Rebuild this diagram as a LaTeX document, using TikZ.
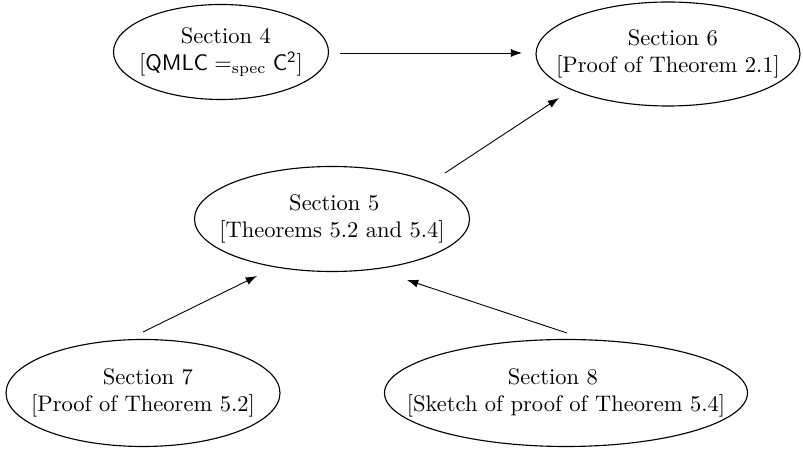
\documentclass[tikz,border=0pt]{standalone}
\usetikzlibrary{arrows.meta}
\begin{document}
\begin{tikzpicture}[x=0.4444pt,y=-0.4444pt,
  sect/.style={inner sep=0pt,align=center,font=\normalsize},
  ell/.style={draw,line width=0.5pt},
  arr/.style={-{Latex[length=5pt,width=3.6pt]},line width=0.4pt}]
\useasboundingbox (0,0) rectangle (803,451);
\node[sect] (s4) at (221,52)
  {\hspace*{4.4pt}Section 4\\ {[}$\mathsf{QMLC} =_{\mathrm{spec}} \mathsf{C}^{\mathsf{2}}${]}};
\node[sect] (s6) at (668,54)
  {\hspace*{4.4pt}Section 6\\ {[}Proof of Theorem 2.1{]}};
\node[sect] (s5) at (332,219)
  {\hspace*{2pt}Section 5\\ {[}Theorems 5.2 and 5.4{]}};
\node[sect] (s7) at (143,393)
  {\hspace*{4.4pt}Section 7\\ {[}Proof of Theorem 5.2{]}};
\node[sect] (s8) at (566,393)
  {Section 8\hspace*{11.6pt}\\ {[}Sketch of proof of Theorem 5.4{]}};
\draw[ell] (s4.center) ellipse [x radius=107.5, y radius=47.5];
\draw[ell] (s6.center) ellipse [x radius=132, y radius=52];
\draw[ell] (s5.center) ellipse [x radius=137.5, y radius=52.5];
\draw[ell] (s7.center) ellipse [x radius=137, y radius=53.5];
\draw[ell] (s8.center) ellipse [x radius=181.5, y radius=53.5];
\draw[arr] ([shift={(119,1)}]s4.center) -- ([shift={(-146,-1)}]s6.center);
\draw[arr] ([shift={(113,-46)}]s5.center) -- ([shift={(-109,44)}]s6.center);
\draw[arr] ([shift={(0,-61)}]s7.center) -- ([shift={(-75,57)}]s5.center);
\draw[arr] ([shift={(1,-60)}]s8.center) -- ([shift={(75,61)}]s5.center);
\end{tikzpicture}
\end{document}
